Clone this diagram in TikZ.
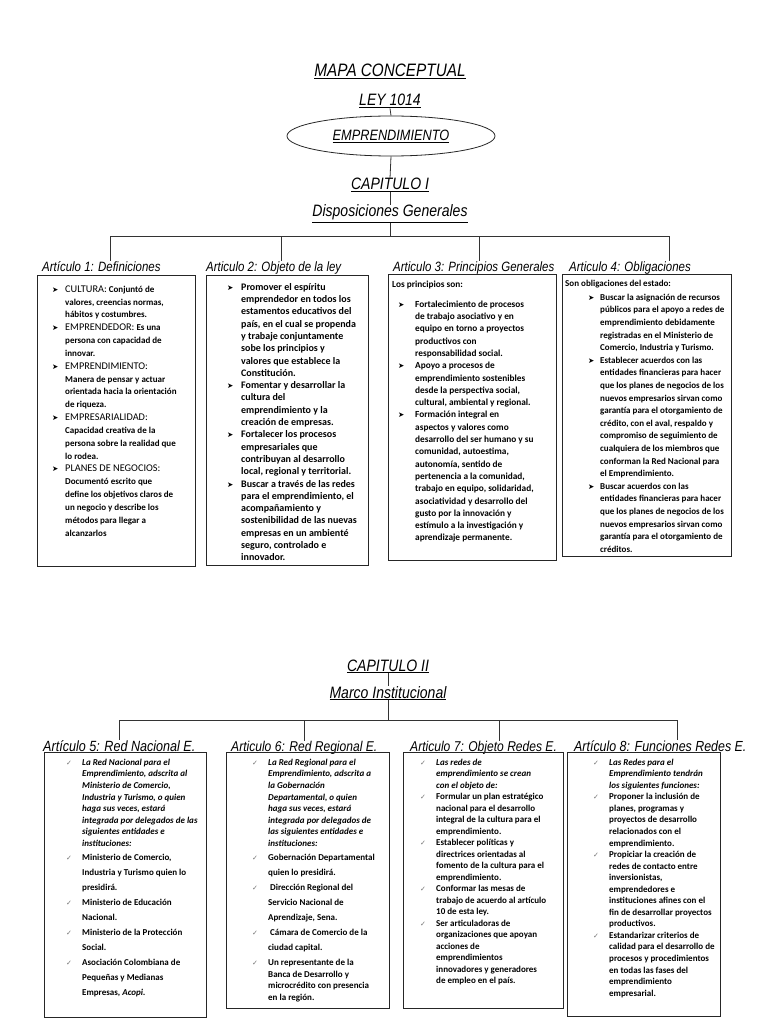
\documentclass[tikz,border=0pt]{standalone}
\usepackage{fontspec}
\setmainfont{Carlito}
\newfontfamily\headfont[FakeStretch=0.85]{Liberation Sans}
\newfontfamily\symfont{DejaVu Sans}
\usetikzlibrary{shapes.geometric}

% bullets and small helpers for the boxes
\newcommand{\arr}{\leavevmode{\symfont\fontsize{7.5}{7.5}\selectfont ➤}}
\newcommand{\chk}{\leavevmode{\symfont\fontsize{7}{7}\selectfont\color{black!55}✓}}
\newcommand{\hd}[1]{{\mdseries\fontsize{10.3}{10.3}\selectfont #1}}
\newcommand{\ti}[1]{\textit{#1}}

\begin{document}
\begin{tikzpicture}[
    x=1pt, y=-1pt,
    headtxt/.style={inner sep=0pt, anchor=base, font=\headfont\itshape\fontsize{16.5}{18}\selectfont},
    arttxt/.style={inner sep=0pt, anchor=base west, font=\headfont\itshape\fontsize{#1}{15}\selectfont},
    arttxt/.default=13.5,
    artbox/.style={draw=black!85, line width=1pt, anchor=north west, inner sep=0pt},
    boxtxt/.style={inner sep=0pt, anchor=north west, align=left, font=\bfseries\fontsize{9}{#1}\selectfont},
    boxtxt/.default=12.3,
    link/.style={draw=black!80, line width=0.8pt}
]
\fill[white] (0,0) rectangle (768,1024);
\useasboundingbox (0,0) rectangle (768,1024);

% ---- head of the map
\node[headtxt, font=\headfont\itshape\fontsize{18}{20}\selectfont] (title) at (390,77) {\underline{MAPA CONCEPTUAL}};
\node[headtxt] (ley) at (390,106) {\underline{LEY 1014}};
\node[ellipse, draw=black!85, line width=0.8pt, minimum width=208pt, minimum height=40pt, inner sep=0pt,
      font=\headfont\itshape\fontsize{15}{16}\selectfont] (emp) at (391,136) {\underline{EMPRENDIMIENTO}};
\node[headtxt] (cap1) at (390,190) {\underline{CAPITULO I}};
\node[headtxt] (disp) at (390,217) {\underline{Disposiciones Generales}};

\draw[link] (ley.south) -- (emp.north);
\draw[link] (emp.south) -- (cap1.north);
\draw[link] (cap1.south) -- (disp.north);

\coordinate (b1) at (110,236);
\coordinate (b2) at (281,236);
\coordinate (b3) at (479,236);
\coordinate (b4) at (669,236);
\coordinate (bm) at (disp |- b1);
\draw[link] (disp.south) -- (bm);
\draw[link] (b1) -- (b4);

% ---- capitulo I articles
\node[arttxt] (a1) at (42,271) {Artículo 1: Definiciones};
\node[arttxt] (a2) at (206,271) {Articulo 2: Objeto de la ley};
\node[arttxt] (a3) at (393,271) {Articulo 3: Principios Generales};
\node[arttxt] (a4) at (569,271) {Articulo 4: Obligaciones};

\draw[link] (b1) -- (b1 |- a1.north);
\draw[link] (b2) -- (b2 |- a2.north);
\draw[link] (b3) -- (b3 |- a3.north);
\draw[link] (b4) -- (b4 |- a4.north);

\node[artbox, minimum width=158pt, minimum height=291pt] (box1) at (37,275) {};
\node[artbox, minimum width=162pt, minimum height=290pt] (box2) at (206,275) {};
\node[artbox, minimum width=168pt, minimum height=286pt] (box3) at (388,274) {};
\node[artbox, minimum width=169pt, minimum height=282pt] (box4) at (562,274) {};

\node[boxtxt=12.84] (t1) at (52,283) {\begin{tabular}{@{}p{13pt}@{}l@{}}
\arr & \hd{CULTURA:} Conjuntó de\\
 & valores, creencias normas,\\
 & hábitos y costumbres.\\
\arr & \hd{EMPRENDEDOR:} Es una\\
 & persona con capacidad de\\
 & innovar.\\
\arr & \hd{EMPRENDIMIENTO:}\\
 & Manera de pensar y actuar\\
 & orientada hacia la orientación\\
 & de riqueza.\\
\arr & \hd{EMPRESARIALIDAD:}\\
 & Capacidad creativa de la\\
 & persona sobre la realidad que\\
 & lo rodea.\\
\arr & \hd{PLANES DE NEGOCIOS:}\\
 & Documentó escrito que\\
 & define los objetivos claros de\\
 & un negocio y describe los\\
 & métodos para llegar a\\
 & alcanzarlos
\end{tabular}};

\node[boxtxt, font=\bfseries\fontsize{10}{12.3}\selectfont] (t2) at (227,281.4) {\begin{tabular}{@{}p{14pt}@{}l@{}}
\arr & Promover el espíritu\\
 & emprendedor en todos los\\
 & estamentos educativos del\\
 & país, en el cual se propenda\\
 & y trabaje conjuntamente\\
 & sobe los principios y\\
 & valores que establece la\\
 & Constitución.\\
\arr & Fomentar y desarrollar la\\
 & cultura del\\
 & emprendimiento y la\\
 & creación de empresas.\\
\arr & Fortalecer los procesos\\
 & empresariales que\\
 & contribuyan al desarrollo\\
 & local, regional y territorial.\\
\arr & Buscar a través de las redes\\
 & para el emprendimiento, el\\
 & acompañamiento y\\
 & sostenibilidad de las nuevas\\
 & empresas en un ambienté\\
 & seguro, controlado e\\
 & innovador.
\end{tabular}};

\node[boxtxt, font=\bfseries\fontsize{9.3}{12.3}\selectfont] (t3) at (392,278.4) {\begin{tabular}{@{\hspace{6pt}}p{17pt}@{}l@{}}
\multicolumn{2}{@{}l@{}}{Los principios son:}\\[7.7pt]
\arr & Fortalecimiento de procesos\\
 & de trabajo asociativo y en\\
 & equipo en torno a proyectos\\
 & productivos con\\
 & responsabilidad social.\\
\arr & Apoyo a procesos de\\
 & emprendimiento sostenibles\\
 & desde la perspectiva social,\\
 & cultural, ambiental y regional.\\
\arr & Formación integral en\\
 & aspectos y valores como\\
 & desarrollo del ser humano y su\\
 & comunidad, autoestima,\\
 & autonomía, sentido de\\
 & pertenencia a la comunidad,\\
 & trabajo en equipo, solidaridad,\\
 & asociatividad y desarrollo del\\
 & gusto por la innovación y\\
 & estímulo a la investigación y\\
 & aprendizaje permanente.
\end{tabular}};

\node[boxtxt=12.6] (t4) at (565,277.2) {\begin{tabular}{@{\hspace{23pt}}p{12pt}@{}l@{}}
\multicolumn{2}{@{}l@{}}{Son obligaciones del estado:}\\[1.4pt]
\arr & Buscar la asignación de recursos\\
 & públicos para el apoyo a redes de\\
 & emprendimiento debidamente\\
 & registradas en el Ministerio de\\
 & Comercio, Industria y Turismo.\\
\arr & Establecer acuerdos con las\\
 & entidades financieras para hacer\\
 & que los planes de negocios de los\\
 & nuevos empresarios sirvan como\\
 & garantía para el otorgamiento de\\
 & crédito, con el aval, respaldo y\\
 & compromiso de seguimiento de\\
 & cualquiera de los miembros que\\
 & conforman la Red Nacional para\\
 & el Emprendimiento.\\
\arr & Buscar acuerdos con las\\
 & entidades financieras para hacer\\
 & que los planes de negocios de los\\
 & nuevos empresarios sirvan como\\
 & garantía para el otorgamiento de\\
 & créditos.
\end{tabular}};

% ---- capitulo II
\node[headtxt] (cap2) at (388,671) {\underline{CAPITULO II}};
\node[headtxt] (marco) at (388,698) {\underline{Marco Institucional}};
\draw[link] (cap2.south) -- (marco.north);

\coordinate (c1) at (119,720);
\coordinate (c2) at (304,720);
\coordinate (c3) at (499,720);
\coordinate (c4) at (677,720);
\coordinate (cm) at (marco |- c1);
\draw[link] (marco.south) -- (cm);
\draw[link] (c1) -- (c4);

\node[arttxt=14.8] (a5) at (43,751) {Artículo 5: Red Nacional E.};
\node[arttxt=14.2] (a6) at (231,751) {Articulo 6: Red Regional E.};
\node[arttxt=14.2] (a7) at (410,751) {Articulo 7: Objeto Redes E.};
\node[arttxt=14.6] (a8) at (574,751) {Artículo 8: Funciones Redes E.};

\draw[link] (c1) -- (c1 |- a5.north);
\draw[link] (c2) -- (c2 |- a6.north);
\draw[link] (c3) -- (c3 |- a7.north);
\draw[link] (c4) -- (c4 |- a8.north);

\node[artbox, minimum width=162pt, minimum height=265pt] (box5) at (44,752) {};
\node[artbox, minimum width=163pt, minimum height=256pt] (box6) at (226,752) {};
\node[artbox, minimum width=160pt, minimum height=256pt] (box7) at (403,752) {};
\node[artbox, minimum width=153pt, minimum height=264pt] (box8) at (567,752) {};

\node[boxtxt=11.6] (t5) at (66,756.9) {\begin{tabular}{@{}p{16pt}@{}l@{}}
\chk & \ti{La Red Nacional para el}\\
 & \ti{Emprendimiento, adscrita al}\\
 & \ti{Ministerio de Comercio,}\\
 & \ti{Industria y Turismo, o quien}\\
 & \ti{haga sus veces, estará}\\
 & \ti{integrada por delegados de las}\\
 & \ti{siguientes entidades e}\\
 & \ti{instituciones:}\\[2.4pt]
\chk & Ministerio de Comercio,\\[3.4pt]
 & Industria y Turismo quien lo\\[3.4pt]
 & presidirá.\\[3.4pt]
\chk & Ministerio de Educación\\[3.4pt]
 & Nacional.\\[3.4pt]
\chk & Ministerio de la Protección\\[3.4pt]
 & Social.\\[3.4pt]
\chk & Asociación Colombiana de\\[3.4pt]
 & Pequeñas y Medianas\\[3.4pt]
 & Empresas, \ti{Acopi.}
\end{tabular}};

\node[boxtxt=11.6] (t6) at (252,756.9) {\begin{tabular}{@{}p{16pt}@{}l@{}}
\chk & \ti{La Red Regional para el}\\
 & \ti{Emprendimiento, adscrita a}\\
 & \ti{la Gobernación}\\
 & \ti{Departamental, o quien}\\
 & \ti{haga sus veces, estará}\\
 & \ti{integrada por delegados de}\\
 & \ti{las siguientes entidades e}\\
 & \ti{instituciones:}\\[2.4pt]
\chk & Gobernación Departamental\\[3.4pt]
 & quien lo presidirá.\\[3.4pt]
\chk & \ Dirección Regional del\\[3.4pt]
 & Servicio Nacional de\\[3.4pt]
 & Aprendizaje, Sena.\\[3.4pt]
\chk & \ Cámara de Comercio de la\\[3.4pt]
 & ciudad capital.\\[3.4pt]
\chk & Un representante de la\\
 & Banca de Desarrollo y\\
 & microcrédito con presencia\\
 & en la región.
\end{tabular}};

\node[boxtxt=11.5] (t7) at (420,756.9) {\begin{tabular}{@{}p{16pt}@{}l@{}}
\chk & \ti{Las redes de}\\
 & \ti{emprendimiento se crean}\\
 & \ti{con el objeto de:}\\
\chk & Formular un plan estratégico\\
 & nacional para el desarrollo\\
 & integral de la cultura para el\\
 & emprendimiento.\\
\chk & Establecer políticas y\\
 & directrices orientadas al\\
 & fomento de la cultura para el\\
 & emprendimiento.\\
\chk & Conformar las mesas de\\
 & trabajo de acuerdo al artículo\\
 & 10 de esta ley.\\
\chk & Ser articuladoras de\\
 & organizaciones que apoyan\\
 & acciones de\\
 & emprendimientos\\
 & innovadores y generadores\\
 & de empleo en el país.
\end{tabular}};

\node[boxtxt=11.55] (t8) at (593,756.9) {\begin{tabular}{@{}p{16pt}@{}l@{}}
\chk & \ti{Las Redes para el}\\
 & \ti{Emprendimiento tendrán}\\
 & \ti{los siguientes funciones:}\\
\chk & Proponer la inclusión de\\
 & planes, programas y\\
 & proyectos de desarrollo\\
 & relacionados con el\\
 & emprendimiento.\\
\chk & Propiciar la creación de\\
 & redes de contacto entre\\
 & inversionistas,\\
 & emprendedores e\\
 & instituciones afines con el\\
 & fin de desarrollar proyectos\\
 & productivos.\\
\chk & Estandarizar criterios de\\
 & calidad para el desarrollo de\\
 & procesos y procedimientos\\
 & en todas las fases del\\
 & emprendimiento\\
 & empresarial.
\end{tabular}};

\end{tikzpicture}
\end{document}
